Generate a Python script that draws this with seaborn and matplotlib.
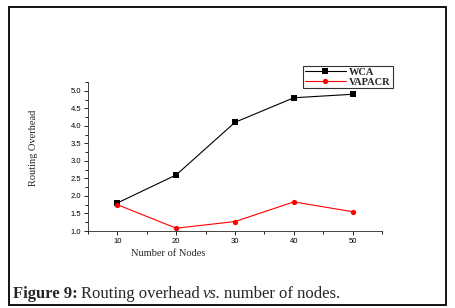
import matplotlib
matplotlib.use("Agg")
import matplotlib.pyplot as plt
from matplotlib.patches import Rectangle
from matplotlib.ticker import MultipleLocator
import seaborn as sns
import pandas as pd

# values
nodes = [10, 20, 30, 40, 50]
wca = [1.80, 2.60, 4.10, 4.80, 4.90]
vapacr = [1.75, 1.08, 1.27, 1.83, 1.55]

df = pd.DataFrame({
    "nodes": nodes * 2,
    "overhead": wca + vapacr,
    "method": ["WCA"] * len(nodes) + ["VAPACR"] * len(nodes),
})

sns.set_theme(style="ticks")
plt.rcParams["font.family"] = ["Liberation Sans", "DejaVu Sans"]

fig = plt.figure(figsize=(4.55, 3.08), dpi=100)
ax = fig.add_axes([0.1934, 0.25, 0.6462, 0.4838])

sns.lineplot(data=df, x="nodes", y="overhead", hue="method", style="method",
             palette={"WCA": "black", "VAPACR": "red"},
             markers={"WCA": "s", "VAPACR": "o"}, dashes=False,
             markersize=3.8, linewidth=0.8, markeredgewidth=0, ax=ax)

ax.set_xlim(5, 55)
ax.set_ylim(1.0, 5.25)
ax.set_xticks(nodes)
ax.xaxis.set_minor_locator(MultipleLocator(5))
ax.yaxis.set_major_locator(MultipleLocator(0.5))
ax.yaxis.set_minor_locator(MultipleLocator(0.25))
ax.yaxis.set_major_formatter(matplotlib.ticker.FormatStrFormatter("%.1f"))
ax.tick_params(which="both", labelsize=5.5, width=0.6, colors="black", pad=2)
ax.tick_params(which="major", length=3)
ax.tick_params(which="minor", length=2)
for s in ["left", "bottom"]:
    ax.spines[s].set_linewidth(0.6)
sns.despine(ax=ax)
ax.set_xlabel("")
ax.set_ylabel("")

leg = ax.legend(loc="upper left", bbox_to_anchor=(303 / 455, 1 - 66 / 308),
                bbox_transform=fig.transFigure, frameon=True, fancybox=False,
                prop={"family": "Liberation Serif", "size": 7.5, "weight": "bold"},
                handlelength=4.0, handletextpad=0.3, borderpad=0.15,
                labelspacing=0.05, borderaxespad=0)
leg.get_frame().set_edgecolor("black")
leg.get_frame().set_linewidth(0.8)

fig.text(34 / 455, 1 - 148 / 308, "Routing Overhead", rotation=90,
         ha="center", va="center", fontsize=7.5, family="Liberation Serif")
fig.text(168 / 455, 1 - 254 / 308, "Number of Nodes", ha="center",
         va="center", fontsize=7.5, family="Liberation Serif")

# caption, pieces placed one after another on a common baseline
renderer = fig.canvas.get_renderer()
x0 = 13
pieces = [("Figure 9:", {"weight": "bold"}, 3),
          ("Routing overhead", {}, 3),
          ("vs.", {"style": "italic"}, 3),
          ("number of nodes.", {}, 0)]
for txt, kw, gap in pieces:
    t = fig.text(x0 / 455, 1 - 298 / 308, txt, ha="left", va="baseline",
                 fontsize=12, family="Liberation Serif", **kw)
    bb = t.get_window_extent(renderer=renderer)
    x0 = bb.x1 + gap

fig.patches.append(Rectangle((9 / 455, 3 / 308), 437 / 455, 298 / 308,
                             transform=fig.transFigure, fill=False,
                             edgecolor="black", linewidth=1.3))

fig.savefig("out.png", dpi=100)
